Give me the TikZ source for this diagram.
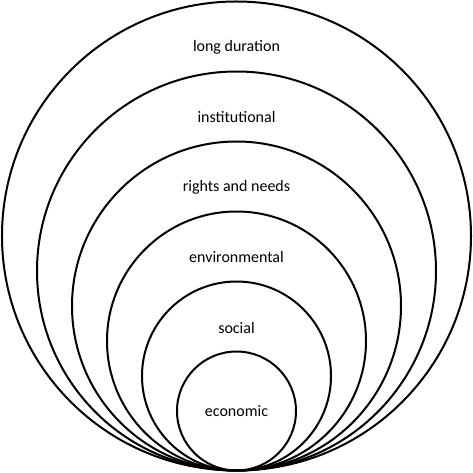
\documentclass[tikz,border=0pt]{standalone}
\usepackage{fontspec}
\setmainfont{Carlito}
\usepackage{tikz}

\tikzset{
  ring/.style={draw=black, line width=2pt},
  lbl/.style={font=\fontsize{16}{19}\selectfont, text=black}
}

\begin{document}
\begin{tikzpicture}[x=1pt, y=1pt]

% Cadre
\useasboundingbox (-236.5,-1.5) rectangle (236.5,470.5);

% Cercles tangents en bas
\draw[ring] (0,234.5) circle (234.5);
\draw[ring] (0,199.5) circle (199.5);
\draw[ring] (0,164.5) circle (164.5);
\draw[ring] (0,129.5) circle (129.5);
\draw[ring] (0, 94.5) circle (94.5);
\draw[ring] (0, 59.5) circle (59.5);

% Etiquettes
\node[lbl] (longdur) at (0,423.5) {long duration};
\node[lbl] (instit)  at (0,353.5) {institutional};
\node[lbl] (rights)  at (0,283.5) {rights and needs};
\node[lbl] (environ) at (0,213)   {environmental};
\node[lbl] (social)  at (0,142)   {social};
\node[lbl] (econ)    at (0, 59.5) {economic};

\end{tikzpicture}
\end{document}
